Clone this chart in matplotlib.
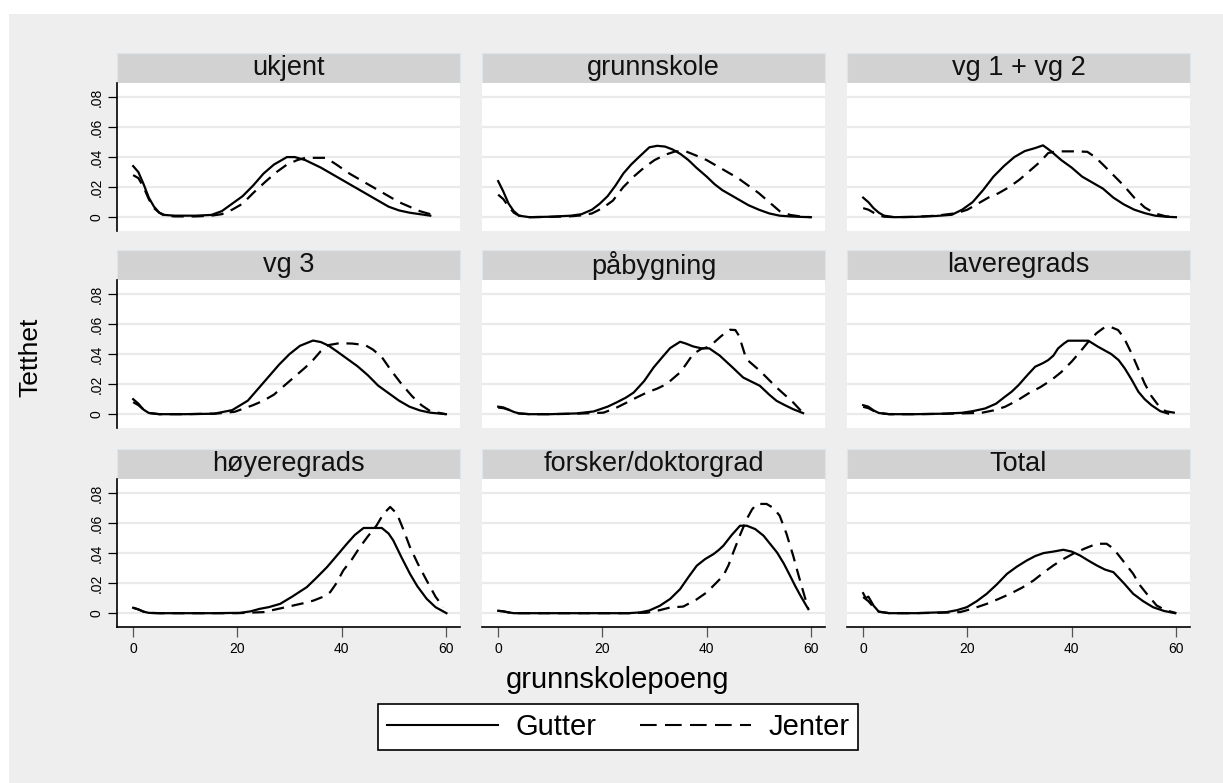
import matplotlib
matplotlib.use("Agg")
import matplotlib.pyplot as plt
from matplotlib.patches import Rectangle
from matplotlib.lines import Line2D

plt.rcParams['font.family'] = ['Liberation Sans', 'DejaVu Sans']

# kernel density of grunnskolepoeng, boys (g) and girls (j), per parental education
titles = ["ukjent", "grunnskole", "vg 1 + vg 2",
          "vg 3", "påbygning", "laveregrads",
          "høyeregrads", "forsker/doktorgrad", "Total"]

ukjent_gx = [0, 1, 2, 3, 4, 5, 6, 8, 12, 15, 17, 19, 21, 23, 25, 27, 29.5, 31, 33, 36, 39, 42, 45, 47, 49, 51, 53, 55, 57]
ukjent_gy = [0.034, 0.030, 0.022, 0.013, 0.007, 0.003, 0.0015, 0.001, 0.001, 0.0015, 0.004, 0.009, 0.014, 0.021, 0.029, 0.035, 0.040, 0.040, 0.038, 0.033, 0.027, 0.021, 0.015, 0.011, 0.007, 0.0045, 0.003, 0.002, 0.001]
ukjent_jx = [0, 1, 2, 3, 4, 5, 6, 8, 12, 15, 17, 19, 21, 23, 25.5, 27.5, 29.5, 31.5, 33, 35, 37, 39, 41.5, 45, 48, 51, 53, 55, 57]
ukjent_jy = [0.028, 0.026, 0.020, 0.012, 0.006, 0.003, 0.001, 0.0005, 0.0005, 0.001, 0.002, 0.005, 0.009, 0.016, 0.024, 0.030, 0.035, 0.038, 0.0395, 0.0395, 0.0395, 0.035, 0.029, 0.022, 0.016, 0.010, 0.007, 0.004, 0.002]

grunn_gx = [0, 1, 2, 3, 4, 6, 10, 14, 16, 18, 19.5, 21, 22.5, 24, 25.5, 27, 29, 30.5, 32, 33.5, 35, 36.5, 38, 40, 41.5, 43, 44.5, 46, 48, 50, 52, 54, 56, 58, 60]
grunn_gy = [0.024, 0.017, 0.009, 0.004, 0.001, 0.0, 0.0003, 0.001, 0.002, 0.005, 0.009, 0.014, 0.021, 0.029, 0.035, 0.040, 0.0465, 0.0475, 0.047, 0.045, 0.042, 0.038, 0.033, 0.027, 0.022, 0.018, 0.015, 0.012, 0.008, 0.005, 0.0025, 0.001, 0.0005, 0.0002, 0.0]
grunn_jx = [0, 1, 2, 3, 4, 6, 10, 14, 16, 18, 20, 22, 24, 26, 28, 30, 32, 34, 36, 38, 40, 42, 44, 46, 48, 50, 52, 54, 56, 58, 60]
grunn_jy = [0.015, 0.012, 0.007, 0.003, 0.001, 0.0, 0.0002, 0.0006, 0.0012, 0.0025, 0.006, 0.011, 0.020, 0.027, 0.033, 0.038, 0.0415, 0.0438, 0.0438, 0.041, 0.038, 0.034, 0.030, 0.026, 0.021, 0.016, 0.010, 0.004, 0.0015, 0.0005, 0.0]

vg12_gx = [0, 1, 2, 3, 4, 6, 10, 14, 17, 19, 21, 23, 25, 27, 29, 31, 33, 34.5, 36, 38, 40, 42, 44, 46, 48, 50, 52, 54, 56, 58, 60]
vg12_gy = [0.013, 0.010, 0.006, 0.003, 0.001, 0.0, 0.0002, 0.0008, 0.0016, 0.005, 0.010, 0.018, 0.027, 0.034, 0.040, 0.044, 0.046, 0.0478, 0.044, 0.038, 0.033, 0.027, 0.023, 0.019, 0.013, 0.0085, 0.005, 0.0027, 0.001, 0.0003, 0.0]
vg12_jx = [0, 1, 2, 3, 4, 6, 10, 14, 18, 20, 22, 24, 26, 28, 30, 32, 34, 35.5, 37, 39, 41, 43, 44.5, 46, 48, 50, 52, 54, 56, 58, 60]
vg12_jy = [0.006, 0.005, 0.003, 0.0012, 0.0003, 0.0, 0.0002, 0.001, 0.0027, 0.005, 0.009, 0.013, 0.016, 0.020, 0.025, 0.031, 0.037, 0.0427, 0.0438, 0.0438, 0.0438, 0.0435, 0.040, 0.035, 0.028, 0.021, 0.013, 0.0065, 0.0025, 0.0006, 0.0]

vg3_gx = [0, 1, 2, 3, 5, 10, 15.5, 19, 22, 24, 26, 28, 30, 32, 34.5, 36, 37.5, 39, 41, 43, 45, 47, 49, 51, 53, 55, 57, 60]
vg3_gy = [0.010, 0.007, 0.003, 0.0008, 0.0, 0.0, 0.0003, 0.0027, 0.009, 0.017, 0.025, 0.033, 0.040, 0.0455, 0.049, 0.048, 0.0456, 0.042, 0.037, 0.032, 0.026, 0.019, 0.014, 0.009, 0.005, 0.0025, 0.001, 0.0]
vg3_jx = [0, 1, 2, 3, 5, 10, 16, 19.5, 23, 25, 27, 29, 31, 33, 34.5, 36, 37.5, 39.5, 42, 44.5, 46, 47.7, 49.5, 51.5, 53.5, 55.3, 57, 60]
vg3_jy = [0.008, 0.006, 0.003, 0.0008, 0.0, 0.0, 0.0004, 0.0016, 0.006, 0.009, 0.013, 0.019, 0.025, 0.031, 0.036, 0.042, 0.046, 0.0472, 0.047, 0.046, 0.043, 0.038, 0.029, 0.020, 0.012, 0.006, 0.002, 0.0]

paab_gx = [0, 1, 2, 3, 4, 6, 10, 15, 18.3, 21, 22.7, 24.5, 26, 28, 29.8, 31.5, 33, 34.9, 36, 37.4, 39, 40.5, 42.5, 45, 47, 50.2, 52, 53.4, 55, 56.6, 58.5]
paab_gy = [0.005, 0.0045, 0.003, 0.0015, 0.0005, 0.0, 0.0, 0.0005, 0.0018, 0.005, 0.0078, 0.011, 0.0144, 0.022, 0.031, 0.038, 0.044, 0.0482, 0.047, 0.0451, 0.0438, 0.0438, 0.039, 0.031, 0.0244, 0.0189, 0.013, 0.0089, 0.006, 0.0033, 0.0007]
paab_jx = [0, 1, 2, 3, 4, 6, 10, 15, 20.2, 22.5, 24.7, 26.5, 28.5, 30.5, 32.3, 34.9, 36, 37.4, 39, 40, 41.5, 42.5, 43.5, 44.5, 45.5, 46.2, 47.6, 50.2, 53.4, 56.6, 58.5]
paab_jy = [0.0044, 0.004, 0.003, 0.0015, 0.0005, 0.0, 0.0, 0.0003, 0.001, 0.004, 0.0078, 0.011, 0.0144, 0.017, 0.020, 0.0278, 0.033, 0.040, 0.0435, 0.0444, 0.048, 0.0511, 0.054, 0.0562, 0.056, 0.0522, 0.0367, 0.0289, 0.0178, 0.0078, 0.0007]

lav_gx = [0, 1, 2, 3, 5, 10, 15, 18.9, 21, 23.4, 25.5, 27.2, 28.5, 29.8, 31.5, 33, 34.5, 35.5, 36.5, 37.4, 38.5, 39.3, 41, 43.2, 45, 47.6, 49, 50.2, 51.5, 52.8, 54, 55.3, 57, 58.5]
lav_gy = [0.006, 0.005, 0.0025, 0.0008, 0.0, 0.0, 0.0003, 0.0009, 0.002, 0.0038, 0.007, 0.0116, 0.015, 0.0193, 0.026, 0.0316, 0.034, 0.036, 0.039, 0.0438, 0.047, 0.0489, 0.0489, 0.0489, 0.045, 0.040, 0.036, 0.0304, 0.023, 0.0149, 0.010, 0.006, 0.002, 0.0004]
lav_jx = [0, 1, 2, 3, 5, 10, 15, 20, 22.7, 25, 27.2, 29.5, 31.7, 34, 36.1, 38, 40, 41.5, 43.2, 44.8, 46.3, 47.5, 48.9, 50, 51.5, 52.8, 54, 55.3, 56.6, 58, 59.8]
lav_jy = [0.0049, 0.004, 0.0022, 0.0008, 0.0, 0.0, 0.0002, 0.0006, 0.0009, 0.0025, 0.0049, 0.009, 0.0138, 0.018, 0.0227, 0.028, 0.035, 0.041, 0.0482, 0.054, 0.0578, 0.058, 0.056, 0.051, 0.0404, 0.030, 0.0204, 0.012, 0.006, 0.002, 0.0009]

hoy_gx = [0, 1, 2, 3, 5, 10, 15, 20.5, 22.5, 24.3, 26, 28.2, 30.5, 33.3, 35, 37.2, 39, 41, 42.5, 44.2, 46, 47.7, 49, 49.9, 51.5, 53.1, 54.5, 56.3, 58, 60.1]
hoy_gy = [0.0036, 0.0025, 0.001, 0.0002, 0.0, 0.0, 0.0, 0.0002, 0.0012, 0.0029, 0.004, 0.0062, 0.011, 0.0173, 0.023, 0.0307, 0.038, 0.0462, 0.052, 0.0567, 0.0567, 0.0567, 0.053, 0.0484, 0.037, 0.0262, 0.018, 0.0096, 0.004, 0.0]
hoy_jx = [0, 1, 2, 3, 5, 10, 15, 20, 25, 28, 30.7, 32.5, 34.6, 36.5, 37.8, 39, 40.3, 42, 43.5, 45, 46.7, 48, 49.3, 50.6, 51.8, 53.1, 54.6, 56.3, 58, 59.5]
hoy_jy = [0.0036, 0.0025, 0.001, 0.0002, 0.0, 0.0, 0.0, 0.0, 0.0007, 0.003, 0.0051, 0.0065, 0.0084, 0.011, 0.014, 0.020, 0.0284, 0.036, 0.044, 0.051, 0.0584, 0.066, 0.0707, 0.0662, 0.056, 0.044, 0.033, 0.0218, 0.011, 0.004]

fors_gx = [0, 1, 2, 3, 5, 10, 15, 20, 25, 27.2, 29, 31, 33, 34.9, 36.5, 38.1, 39.7, 41.3, 42.3, 43.2, 44.8, 46.4, 47.7, 49.3, 50.9, 52.2, 53.5, 54.8, 56, 57, 58, 59.5]
fors_gy = [0.0016, 0.0012, 0.0005, 0.0, 0.0, 0.0, 0.0, 0.0, 0.0, 0.0005, 0.0018, 0.0049, 0.0095, 0.016, 0.024, 0.0316, 0.036, 0.0393, 0.042, 0.0449, 0.052, 0.0582, 0.0582, 0.056, 0.0516, 0.046, 0.0404, 0.033, 0.0249, 0.018, 0.0116, 0.0027]
fors_jx = [0, 1, 2, 3, 5, 10, 15, 20, 25, 28.5, 31, 33, 35.5, 38, 40, 41.5, 43.2, 44.2, 45.1, 46.4, 47.7, 48.7, 49.6, 51.5, 52.8, 54, 55.3, 56.6, 57.4, 58.2, 59.5]
fors_jy = [0.0016, 0.0012, 0.0005, 0.0, 0.0, 0.0, 0.0, 0.0, 0.0, 0.0003, 0.002, 0.0038, 0.0044, 0.009, 0.0138, 0.019, 0.025, 0.032, 0.0404, 0.052, 0.0627, 0.069, 0.0727, 0.0727, 0.070, 0.0649, 0.053, 0.0382, 0.028, 0.0182, 0.0027]

total_gx = [0, 0.5, 1, 2, 3, 5, 10, 16, 18, 19.9, 21.8, 23.7, 25.6, 27.6, 29.5, 31.4, 33, 34.6, 36.5, 38.4, 40, 41.6, 43.2, 44.8, 46.4, 48, 50, 51.8, 53.7, 55.6, 57.7, 59.8]
total_gy = [0.0133, 0.010, 0.011, 0.005, 0.001, 0.0, 0.0, 0.0007, 0.002, 0.004, 0.008, 0.0129, 0.019, 0.0262, 0.031, 0.0351, 0.038, 0.040, 0.041, 0.0422, 0.041, 0.0384, 0.035, 0.0318, 0.029, 0.0273, 0.020, 0.0129, 0.008, 0.004, 0.0015, 0.0]
total_jx = [0, 1, 2, 3, 5, 10, 15, 18.6, 21, 23.7, 26, 28.2, 30.5, 32.7, 34.6, 36.5, 38.4, 40.3, 42.5, 44.8, 46.7, 48, 49.3, 50.5, 51.8, 53, 54.4, 56.3, 58, 60.1]
total_jy = [0.0107, 0.008, 0.004, 0.001, 0.0, 0.0, 0.0003, 0.0007, 0.003, 0.0062, 0.0095, 0.0129, 0.017, 0.0218, 0.027, 0.0318, 0.036, 0.0396, 0.043, 0.0462, 0.0462, 0.043, 0.0373, 0.032, 0.0262, 0.019, 0.0129, 0.0051, 0.002, 0.0]

curves = [
    (ukjent_gx, ukjent_gy, ukjent_jx, ukjent_jy),
    (grunn_gx, grunn_gy, grunn_jx, grunn_jy),
    (vg12_gx, vg12_gy, vg12_jx, vg12_jy),
    (vg3_gx, vg3_gy, vg3_jx, vg3_jy),
    (paab_gx, paab_gy, paab_jx, paab_jy),
    (lav_gx, lav_gy, lav_jx, lav_jy),
    (hoy_gx, hoy_gy, hoy_jx, hoy_jy),
    (fors_gx, fors_gy, fors_jx, fors_jy),
    (total_gx, total_gy, total_jx, total_jy),
]

yticks = [0, 0.02, 0.04, 0.06, 0.08]
ytick_labels = ["0", ".02", ".04", ".06", ".08"]
xticks = [0, 20, 40, 60]

W, H = 1223, 783
fig = plt.figure(figsize=(W / 100, H / 100), dpi=100)
fig.patch.set_facecolor("white")
fig.patches.append(Rectangle((9 / W, 0), 1, 1 - 14 / H, transform=fig.transFigure,
                             facecolor="#eeeeee", edgecolor="none", zorder=-5))

col_left = [117, 482, 847]
row_top = [83, 280, 479]
pw, ph, hh = 343, 148, 30
dash = (0, (5.5, 3.5))

for i, (title, (gx, gy, jx, jy)) in enumerate(zip(titles, curves)):
    r, c = divmod(i, 3)
    x0, y0 = col_left[c], row_top[r]
    ax = fig.add_axes([x0 / W, 1 - (y0 + ph) / H, pw / W, ph / H])
    ax.set_facecolor("white")
    ax.plot(gx, gy, color="black", lw=1.6, solid_joinstyle="round")
    ax.plot(jx, jy, color="black", lw=1.6, linestyle=dash)
    ax.set_xlim(-3.1, 62.7)
    ax.set_ylim(-0.0092, 0.0893)
    ax.set_yticks(yticks)
    ax.set_xticks(xticks)
    ax.yaxis.grid(True, color="#eaeaea", lw=1.6)
    ax.set_axisbelow(True)
    for s in ax.spines.values():
        s.set_visible(False)
    if c == 0:
        ax.spines["left"].set_visible(True)
        ax.spines["left"].set_linewidth(1.2)
        ax.set_yticklabels(ytick_labels, rotation=90, va="center", fontsize=10)
        ax.tick_params(axis="y", length=6.5, width=0.9, pad=3)
    else:
        ax.tick_params(axis="y", left=False, labelleft=False)
    if r == 2:
        ax.spines["bottom"].set_visible(True)
        ax.spines["bottom"].set_linewidth(1.2)
        ax.tick_params(axis="x", length=7, width=0.9, color="#555555", labelsize=10, pad=4)
    else:
        ax.tick_params(axis="x", bottom=False, labelbottom=False)

    # grey strip with the panel title
    fig.patches.append(Rectangle((x0 / W, 1 - y0 / H), pw / W, hh / H, transform=fig.transFigure,
                                 facecolor="#d2d2d2", edgecolor="#dde5ec", lw=0.8, zorder=-1))
    fig.text((x0 + pw / 2) / W, 1 - (y0 - hh / 2) / H, title, ha="center", va="center",
             fontsize=19.5, color="#111111")

fig.text(30 / W, 1 - 357 / H, "Tetthet", rotation=90, ha="center", va="center", fontsize=19)
fig.text(618 / W, 1 - 680 / H, "grunnskolepoeng", ha="center", va="center", fontsize=21)

handles = [Line2D([], [], color="black", lw=1.5),
           Line2D([], [], color="black", lw=1.5, linestyle=(0, (8, 4)))]
leg = fig.legend(handles, ["Gutter", "Jenter"], loc="center", ncol=2,
                 bbox_to_anchor=(618 / W, 1 - 727 / H), fontsize=21, handlelength=3.8,
                 handletextpad=0.6, columnspacing=1.5, fancybox=False, framealpha=1,
                 edgecolor="black", borderpad=0.3)
leg.get_frame().set_linewidth(1.2)

fig.savefig("out.png", dpi=100)
